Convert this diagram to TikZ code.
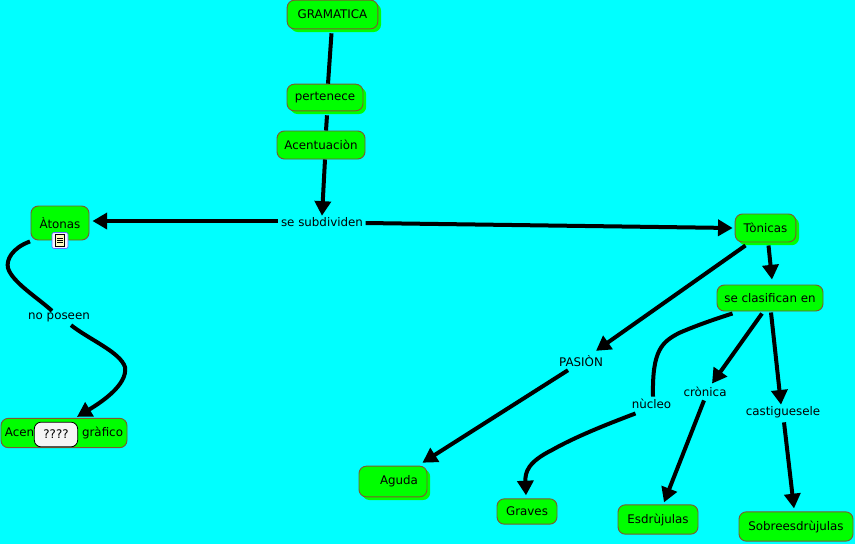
\documentclass[tikz,border=0pt]{standalone}
\usepackage{fontspec}
\setmainfont{DejaVu Sans}
\usetikzlibrary{arrows.meta, shadows}
\definecolor{fondo}{RGB}{0,255,255}
\definecolor{verde}{RGB}{0,255,0}
\definecolor{borde}{RGB}{125,90,45}

\begin{document}
\begin{tikzpicture}[
  x=0.75pt, y=-0.75pt,
  font=\fontsize{8.9}{10}\selectfont,
  concepto/.style={draw=borde, fill=verde, line width=0.7pt, rounded corners=5.5pt,
    inner sep=0pt, align=center},
  sombra/.style={general shadow={shadow xshift=2.4pt, shadow yshift=-2.4pt, fill=verde}},
  enlace/.style={inner sep=1pt, align=center},
  link/.style={draw=black, line width=3pt},
  flecha/.style={link, -{Triangle[length=11pt, width=12pt]}},
  nota/.style={draw=black, fill=gray!8, line width=0.6pt, rounded corners=5pt,
    minimum width=32.5pt, minimum height=18.5pt, inner sep=0pt}
]
  \path[use as bounding box, fill=fondo] (0,0) rectangle (855,544);

  %--- concepts ---
  \node[concepto, sombra, minimum width=68pt, minimum height=21.5pt] (gramatica) at (332.5,14.5) {GRAMATICA};
  \node[concepto, sombra, minimum width=57pt, minimum height=20pt] (pertenece) at (325,97.5) {pertenece};
  \node[concepto, minimum width=66pt, minimum height=21pt] (acentuacion) at (321,145) {Acentuaciòn};
  \node[concepto, minimum width=43.5pt, minimum height=25.5pt] (atonas) at (60,223) {Àtonas};
  \node[concepto, sombra, minimum width=45.5pt, minimum height=21pt] (tonicas) at (765.5,228) {Tònicas};
  \node[concepto, minimum width=79.5pt, minimum height=19.5pt] (clasifican) at (770,298) {se clasifican en};
  \node[concepto, minimum width=94.5pt, minimum height=22pt] (grafico) at (64,433) {Acentuaciòn gràfico};
  \node[concepto, sombra, minimum width=51pt, minimum height=23pt] (aguda) at (393,481.5) {\hspace{9pt}Aguda};
  \node[concepto, minimum width=45pt, minimum height=19pt] (graves) at (527,511.5) {Graves};
  \node[concepto, minimum width=60pt, minimum height=22pt] (esdrujulas) at (658,519.5) {Esdrùjulas};
  \node[concepto, minimum width=85.5pt, minimum height=22pt] (sobre) at (796,526.5) {Sobreesdrùjulas};

  %--- linking phrases ---
  \node[enlace] (subdividen) at (322,222) {se subdividen};
  \node[enlace] (poseen) at (59,317) {no poseen};
  \node[enlace] (pasion) at (581,361) {PASIÒN};
  \node[enlace] (nucleo) at (651.5,404) {nùcleo};
  \node[enlace] (cronica) at (705,392) {crònica};
  \node[enlace] (castiguesele) at (783,412) {castiguesele};

  %--- straight connectors ---
  \draw[link] ([shift={(-1,4)}]gramatica.south) -- ([shift={(3,0)}]pertenece.north);
  \draw[link] ([shift={(2,4)}]pertenece.south) -- ([shift={(5,0)}]acentuacion.north);
  \draw[flecha] ([shift={(4,0)}]acentuacion.south) -- ([shift={(0,0)}]subdividen.north);
  \draw[flecha] ([shift={(-1.5,-1)}]subdividen.west) -- ([shift={(3,-2)}]atonas.east);
  \draw[flecha] ([shift={(1,1)}]subdividen.east) -- ([shift={(-2,0)}]tonicas.west);
  \draw[flecha] ([shift={(3,3)}]tonicas.south) -- ([shift={(2,-5)}]clasifican.north);
  \draw[flecha] ([shift={(-20,3)}]tonicas.south) -- ([shift={(15,-3)}]pasion.north);
  \draw[flecha] ([shift={(-13,2)}]pasion.south) -- ([shift={(-5,-3)}]aguda.north east);
  \draw[flecha] ([shift={(-8,2)}]clasifican.south) -- ([shift={(7,-2)}]cronica.north);
  \draw[flecha] ([shift={(-1,2)}]cronica.south) -- ([shift={(6,-2)}]esdrujulas.north);
  \draw[flecha] ([shift={(1,1)}]clasifican.south) -- ([shift={(-2,0)}]castiguesele.north);
  \draw[flecha] ([shift={(1,3)}]castiguesele.south) -- ([shift={(-2,-3)}]sobre.north);

  %--- curved connectors ---
  \draw[link] ([shift={(16,2)}]clasifican.south west)
    .. controls (715,319) and (695,326) .. (679,333)
    .. controls (662,342) and (652,350) .. ([shift={(1.5,-1)}]nucleo.north);
  \draw[flecha] ([shift={(-16,3)}]nucleo.south)
    .. controls (605,425) and (575,437) .. (552,450)
    .. controls (528,462) and (525,472) .. ([shift={(-1,-3)}]graves.north);
  \draw[link] ([shift={(-30,1)}]atonas.south)
    .. controls (12,248) and (6,260) .. (8,268)
    .. controls (12,282) and (38,298) .. ([shift={(-7,0)}]poseen.north);
  \draw[flecha] ([shift={(12,2)}]poseen.south)
    .. controls (90,340) and (120,352) .. (125,367)
    .. controls (128,385) and (100,403) .. ([shift={(13,-1)}]grafico.north);

  %--- note and resource icon ---
  \node[nota] (nota) at (56,434.5) {????};
  \node[draw=blue!60, fill=blue!5, line width=0.5pt, rounded corners=1.5pt,
    minimum size=12pt, inner sep=0pt] (icono) at (60,240.5) {};
  \node[draw=black, fill=yellow!25, line width=0.4pt, minimum width=7pt, minimum height=9pt,
    inner sep=0pt] (hoja) at (icono.center) {};
  \foreach \y in {-2,0,2}
    \draw[black, line width=0.5pt] ([shift={(-3,\y)}]hoja.center) -- ([shift={(3,\y)}]hoja.center);
\end{tikzpicture}
\end{document}
